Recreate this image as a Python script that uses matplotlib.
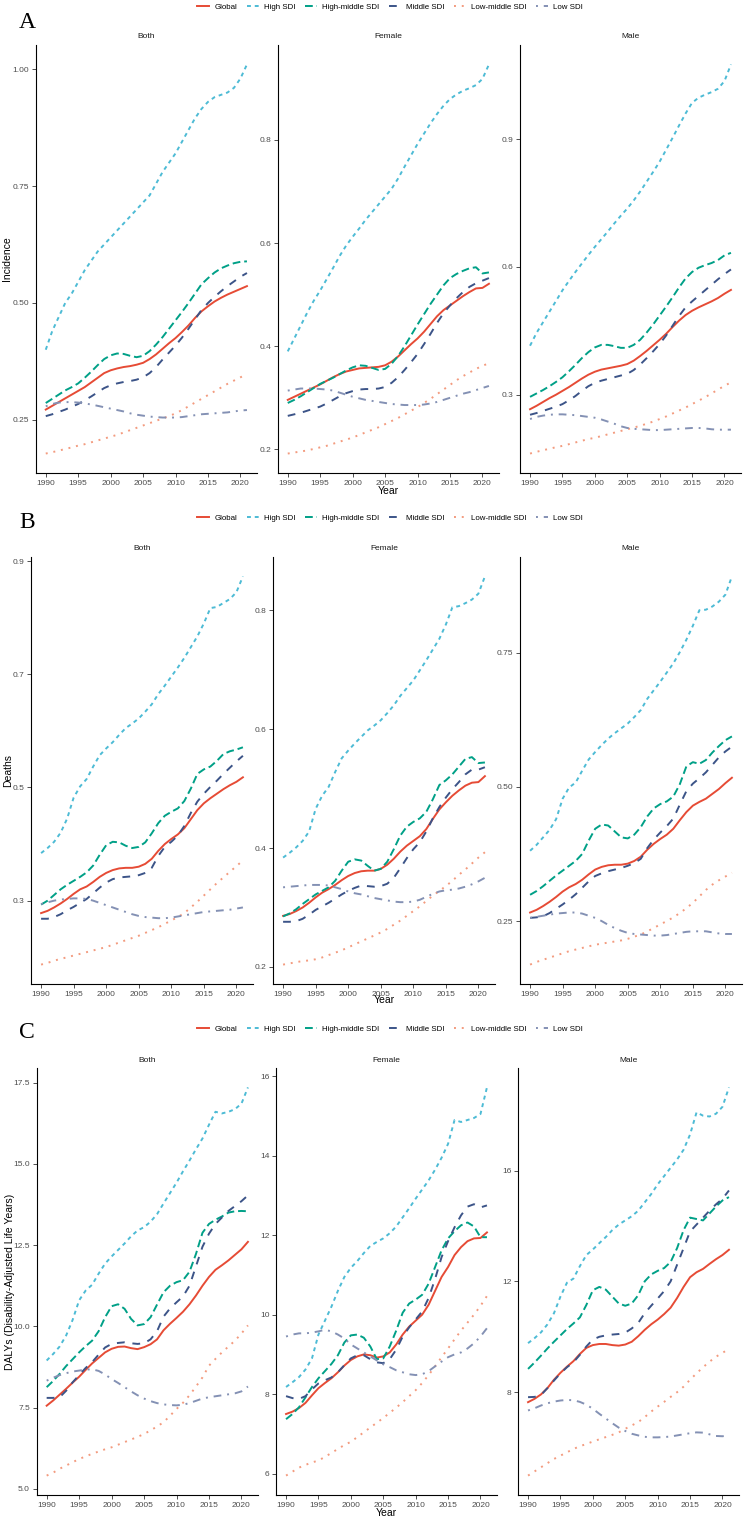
import matplotlib
matplotlib.use("Agg")
import matplotlib.pyplot as plt
from matplotlib.lines import Line2D

plt.rcParams['font.family'] = ['Liberation Sans', 'DejaVu Sans']

years = list(range(1990, 2022))
groups = ["Global", "High SDI", "High-middle SDI", "Middle SDI", "Low-middle SDI", "Low SDI"]
sexes = ["Both", "Female", "Male"]
colors = ["#E64B35", "#4DBBD5", "#00A087", "#3C5488", "#F39B7F", "#8491B4"]
x_ticks = [1990, 1995, 2000, 2005, 2010, 2015, 2020]

# ---------------- A: Incidence ----------------
inc_both_global = [0.272,0.280,0.288,0.296,0.304, 0.312,0.320,0.330,0.340,0.350, 0.356,0.360,0.363,0.365,0.368, 0.372,0.380,0.390,0.402,0.414, 0.425,0.438,0.452,0.468,0.482, 0.493,0.503,0.511,0.518,0.524, 0.530,0.536]
inc_both_high = [0.40,0.44,0.47,0.50,0.52, 0.545,0.57,0.59,0.61,0.625, 0.64,0.655,0.67,0.685,0.70, 0.715,0.73,0.755,0.78,0.80, 0.82,0.845,0.87,0.895,0.915, 0.93,0.94,0.945,0.95,0.96, 0.98,1.01]
inc_both_hm = [0.286,0.295,0.304,0.313,0.320, 0.328,0.340,0.353,0.367,0.380, 0.388,0.392,0.391,0.387,0.384, 0.387,0.397,0.411,0.427,0.445, 0.463,0.481,0.500,0.520,0.540, 0.553,0.565,0.574,0.580,0.585, 0.588,0.589]
inc_both_mid = [0.258,0.262,0.267,0.272,0.278, 0.284,0.292,0.300,0.309,0.318, 0.324,0.328,0.331,0.333,0.336, 0.341,0.350,0.363,0.379,0.394, 0.409,0.426,0.445,0.465,0.485, 0.500,0.513,0.525,0.536,0.546, 0.556,0.564]
inc_both_lm = [0.178,0.181,0.184,0.188,0.191, 0.195,0.198,0.202,0.206,0.210, 0.214,0.218,0.223,0.228,0.233, 0.238,0.243,0.248,0.253,0.258, 0.264,0.271,0.279,0.287,0.295, 0.303,0.311,0.319,0.327,0.334, 0.341,0.348]
inc_both_low = [0.279,0.284,0.287,0.288,0.288, 0.287,0.285,0.283,0.280,0.277, 0.274,0.271,0.268,0.264,0.261, 0.259,0.257,0.256,0.255,0.255, 0.255,0.256,0.258,0.260,0.262, 0.263,0.264,0.265,0.266,0.268, 0.270,0.271]

inc_fem_global = [0.296,0.302,0.308,0.314,0.320, 0.326,0.333,0.340,0.346,0.351, 0.354,0.357,0.358,0.359,0.360, 0.363,0.370,0.380,0.392,0.404, 0.415,0.428,0.443,0.458,0.470, 0.479,0.488,0.497,0.505,0.512, 0.513,0.521]
inc_fem_high = [0.39,0.415,0.44,0.465,0.488, 0.508,0.53,0.552,0.575,0.595, 0.612,0.628,0.645,0.66,0.675, 0.69,0.705,0.725,0.748,0.77, 0.792,0.812,0.832,0.85,0.866, 0.879,0.888,0.895,0.90,0.906, 0.918,0.946]
inc_fem_hm = [0.290,0.296,0.303,0.311,0.319, 0.327,0.333,0.339,0.346,0.353, 0.359,0.363,0.362,0.358,0.354, 0.356,0.366,0.381,0.400,0.421, 0.442,0.462,0.482,0.500,0.518, 0.532,0.540,0.546,0.551,0.553, 0.541,0.543]
inc_fem_mid = [0.265,0.268,0.271,0.275,0.279, 0.283,0.289,0.296,0.303,0.309, 0.313,0.316,0.317,0.317,0.318, 0.321,0.329,0.340,0.354,0.369, 0.385,0.404,0.424,0.445,0.464, 0.479,0.493,0.505,0.515,0.522, 0.527,0.532]
inc_fem_lm = [0.192,0.194,0.196,0.198,0.201, 0.204,0.207,0.211,0.215,0.219, 0.223,0.228,0.233,0.238,0.243, 0.249,0.255,0.261,0.268,0.275, 0.282,0.290,0.298,0.307,0.316, 0.325,0.334,0.342,0.349,0.356, 0.362,0.367]
inc_fem_low = [0.314,0.316,0.318,0.318,0.318, 0.317,0.316,0.314,0.310,0.306, 0.302,0.299,0.296,0.294,0.292, 0.290,0.288,0.287,0.286,0.286, 0.286,0.287,0.289,0.292,0.296, 0.300,0.304,0.308,0.311,0.315, 0.319,0.323]

inc_male_global = [0.266,0.274,0.283,0.292,0.300, 0.309,0.318,0.328,0.338,0.347, 0.354,0.359,0.362,0.365,0.368, 0.372,0.380,0.391,0.403,0.416, 0.429,0.443,0.459,0.474,0.487, 0.497,0.505,0.512,0.519,0.527, 0.537,0.546]
inc_male_high = [0.415,0.445,0.47,0.495,0.52, 0.545,0.567,0.588,0.608,0.628, 0.647,0.665,0.683,0.702,0.72, 0.737,0.756,0.777,0.80,0.823, 0.847,0.875,0.903,0.932,0.96, 0.985,0.997,1.004,1.01,1.018, 1.036,1.075]
inc_male_hm = [0.295,0.303,0.311,0.320,0.330, 0.341,0.355,0.370,0.386,0.400, 0.411,0.417,0.417,0.414,0.410, 0.410,0.417,0.429,0.446,0.465, 0.486,0.507,0.529,0.552,0.573, 0.588,0.598,0.604,0.609,0.616, 0.627,0.633]
inc_male_mid = [0.253,0.257,0.262,0.267,0.272, 0.278,0.287,0.297,0.309,0.320, 0.328,0.333,0.337,0.341,0.345, 0.349,0.358,0.371,0.386,0.402, 0.419,0.439,0.462,0.485,0.505, 0.519,0.532,0.545,0.558,0.571, 0.583,0.594]
inc_male_lm = [0.162,0.166,0.170,0.173,0.177, 0.180,0.184,0.188,0.192,0.196, 0.199,0.203,0.207,0.211,0.215, 0.219,0.223,0.227,0.232,0.237, 0.243,0.249,0.256,0.263,0.270, 0.278,0.286,0.294,0.303,0.312, 0.321,0.329]
inc_male_low = [0.243,0.248,0.251,0.253,0.254, 0.254,0.253,0.252,0.250,0.248, 0.246,0.242,0.237,0.232,0.226, 0.222,0.220,0.219,0.218,0.217, 0.217,0.218,0.219,0.220,0.221, 0.222,0.222,0.221,0.219,0.218, 0.218,0.218]

# ---------------- B: Deaths ----------------
dea_both_global = [0.278,0.282,0.288,0.295,0.303, 0.312,0.320,0.325,0.333,0.342, 0.349,0.354,0.357,0.358,0.358, 0.360,0.365,0.374,0.388,0.400, 0.409,0.417,0.428,0.444,0.460, 0.472,0.481,0.489,0.497,0.504, 0.510,0.518]
dea_both_high = [0.384,0.393,0.404,0.42,0.445, 0.482,0.502,0.515,0.537,0.557, 0.569,0.58,0.593,0.605,0.613, 0.622,0.634,0.647,0.665,0.68, 0.696,0.712,0.729,0.748,0.767, 0.79,0.817,0.819,0.826,0.833, 0.845,0.873]
dea_both_hm = [0.293,0.300,0.310,0.320,0.328, 0.335,0.342,0.350,0.362,0.381, 0.398,0.404,0.403,0.397,0.393, 0.395,0.403,0.419,0.437,0.450, 0.457,0.463,0.476,0.498,0.524, 0.532,0.537,0.547,0.559,0.564, 0.567,0.571]
dea_both_mid = [0.268,0.268,0.271,0.276,0.283, 0.289,0.296,0.303,0.313,0.323, 0.332,0.338,0.341,0.342,0.343, 0.345,0.349,0.358,0.379,0.395, 0.404,0.415,0.432,0.455,0.475, 0.489,0.501,0.512,0.524,0.535, 0.546,0.556]
dea_both_lm = [0.187,0.190,0.194,0.197,0.200, 0.203,0.206,0.209,0.212,0.215, 0.218,0.222,0.226,0.230,0.234, 0.238,0.243,0.248,0.253,0.259, 0.265,0.271,0.278,0.288,0.298, 0.309,0.320,0.331,0.341,0.351, 0.361,0.371]
dea_both_low = [0.294,0.297,0.300,0.302,0.303, 0.304,0.304,0.303,0.300,0.296, 0.292,0.288,0.284,0.280,0.276, 0.273,0.271,0.270,0.269,0.269, 0.270,0.272,0.274,0.276,0.278, 0.280,0.281,0.282,0.283,0.284, 0.286,0.288]

dea_fem_global = [0.286,0.289,0.294,0.300,0.308, 0.317,0.325,0.331,0.338,0.346, 0.353,0.358,0.361,0.362,0.362, 0.365,0.372,0.382,0.394,0.404, 0.412,0.420,0.432,0.449,0.465, 0.477,0.488,0.497,0.505,0.510, 0.511,0.521]
dea_fem_high = [0.384,0.392,0.401,0.412,0.428, 0.466,0.488,0.503,0.528,0.551, 0.564,0.576,0.587,0.598,0.606, 0.615,0.627,0.640,0.656,0.669, 0.682,0.699,0.716,0.734,0.752, 0.776,0.805,0.807,0.812,0.818, 0.828,0.857]
dea_fem_hm = [0.285,0.290,0.297,0.306,0.314, 0.322,0.328,0.334,0.345,0.362, 0.377,0.381,0.379,0.370,0.362, 0.365,0.377,0.398,0.421,0.436, 0.444,0.450,0.461,0.482,0.506, 0.514,0.524,0.537,0.550,0.553, 0.543,0.544]
dea_fem_mid = [0.276,0.276,0.277,0.281,0.288, 0.296,0.302,0.308,0.315,0.322, 0.328,0.333,0.337,0.336,0.335, 0.336,0.340,0.350,0.366,0.383, 0.398,0.410,0.428,0.450,0.469, 0.485,0.499,0.511,0.524,0.532, 0.532,0.536]
dea_fem_lm = [0.204,0.206,0.208,0.210,0.211, 0.213,0.216,0.220,0.224,0.228, 0.233,0.238,0.243,0.248,0.253, 0.258,0.264,0.271,0.278,0.286, 0.294,0.302,0.311,0.320,0.328, 0.336,0.345,0.355,0.364,0.374, 0.384,0.393]
dea_fem_low = [0.334,0.335,0.336,0.337,0.338, 0.338,0.338,0.337,0.334,0.331, 0.327,0.324,0.322,0.319,0.316, 0.314,0.312,0.310,0.309,0.309, 0.310,0.313,0.318,0.323,0.327, 0.329,0.330,0.332,0.335,0.339, 0.344,0.350]

dea_male_global = [0.266,0.271,0.278,0.286,0.295, 0.305,0.313,0.319,0.327,0.337, 0.346,0.351,0.354,0.355,0.355, 0.357,0.362,0.370,0.383,0.394, 0.403,0.411,0.422,0.438,0.453, 0.465,0.472,0.478,0.487,0.496, 0.507,0.517]
dea_male_high = [0.381,0.392,0.406,0.42,0.44, 0.478,0.499,0.508,0.53,0.551, 0.565,0.578,0.59,0.60,0.609, 0.618,0.63,0.643,0.664,0.68, 0.696,0.713,0.73,0.751,0.774, 0.80,0.829,0.83,0.836,0.845, 0.858,0.892]
dea_male_hm = [0.299,0.306,0.315,0.325,0.335, 0.344,0.353,0.362,0.375,0.400, 0.422,0.430,0.428,0.417,0.406, 0.404,0.411,0.425,0.445,0.460, 0.468,0.473,0.482,0.505,0.538, 0.546,0.543,0.550,0.564,0.576, 0.587,0.594]
dea_male_mid = [0.256,0.257,0.259,0.265,0.273, 0.281,0.290,0.300,0.312,0.324, 0.334,0.339,0.343,0.346,0.349, 0.353,0.358,0.366,0.386,0.402, 0.415,0.427,0.441,0.467,0.492, 0.506,0.516,0.527,0.541,0.555, 0.566,0.575]
dea_male_lm = [0.169,0.174,0.178,0.182,0.186, 0.190,0.194,0.197,0.200,0.203, 0.206,0.208,0.210,0.212,0.214, 0.217,0.221,0.225,0.231,0.237, 0.244,0.250,0.257,0.265,0.274, 0.284,0.296,0.308,0.318,0.326, 0.333,0.340]
dea_male_low = [0.256,0.258,0.260,0.262,0.264, 0.265,0.266,0.266,0.264,0.260, 0.256,0.250,0.243,0.237,0.232, 0.228,0.226,0.225,0.224,0.223, 0.223,0.224,0.226,0.228,0.230, 0.231,0.231,0.231,0.229,0.227, 0.226,0.226]

# ---------------- C: DALYs ----------------
daly_both_global = [7.56,7.72,7.90,8.08,8.27, 8.45,8.66,8.86,9.03,9.20, 9.31,9.37,9.38,9.33,9.30, 9.36,9.45,9.60,9.88,10.08, 10.26,10.45,10.68,10.95,11.25, 11.52,11.74,11.88,12.03,12.20, 12.37,12.60]
daly_both_high = [8.95,9.15,9.38,9.72,10.2, 10.8,11.1,11.28,11.62,11.93, 12.15,12.35,12.55,12.77,12.95, 13.05,13.22,13.45,13.78,14.1, 14.42,14.77,15.1,15.45,15.78, 16.2,16.6,16.55,16.6,16.68, 16.85,17.35]
daly_both_hm = [8.13,8.32,8.54,8.78,8.99, 9.2,9.39,9.56,9.85,10.28, 10.62,10.68,10.54,10.23,10.03, 10.07,10.28,10.67,11.05,11.25, 11.36,11.42,11.68,12.23,12.88, 13.15,13.28,13.38,13.5,13.54, 13.55,13.54]
daly_both_mid = [7.80,7.80,7.82,8.02,8.28, 8.50,8.72,8.90,9.13,9.35, 9.46,9.49,9.51,9.48,9.46, 9.48,9.60,9.85,10.30,10.55, 10.74,10.92,11.25,11.85,12.45, 12.85,13.15,13.35,13.55,13.70, 13.85,14.03]
daly_both_lm = [5.41,5.50,5.62,5.72,5.82, 5.92,6.00,6.08,6.15,6.22, 6.28,6.36,6.44,6.52,6.60, 6.69,6.80,6.92,7.05,7.25, 7.46,7.65,7.88,8.15,8.43, 8.79,9.00,9.20,9.38,9.56, 9.78,10.03]
daly_both_low = [8.33,8.42,8.50,8.56,8.61, 8.64,8.67,8.68,8.63,8.52, 8.38,8.26,8.13,8.00,7.88, 7.78,7.70,7.64,7.60,7.58, 7.57,7.59,7.64,7.71,7.78, 7.82,7.85,7.88,7.91,7.94, 8.00,8.15]

daly_fem_global = [7.50,7.56,7.65,7.78,7.97, 8.15,8.28,8.40,8.55,8.72, 8.86,8.95,9.00,8.98,8.92, 8.95,9.05,9.25,9.50,9.70, 9.85,10.00,10.25,10.60,10.95, 11.20,11.50,11.70,11.85,11.92, 11.93,12.07]
daly_fem_high = [8.18,8.30,8.43,8.62,8.90, 9.50,9.85,10.20,10.60,10.95, 11.18,11.35,11.55,11.73,11.83, 11.92,12.05,12.22,12.45,12.68, 12.92,13.15,13.38,13.65,13.95, 14.30,14.90,14.85,14.90,14.95, 15.05,15.72]
daly_fem_hm = [7.37,7.50,7.67,7.92,8.18, 8.40,8.58,8.76,8.98,9.30, 9.48,9.50,9.42,9.20,8.88, 8.90,9.20,9.60,10.05,10.28, 10.38,10.50,10.78,11.20,11.62, 11.92,12.10,12.25,12.32,12.22, 11.95,11.95]
daly_fem_mid = [7.95,7.90,7.88,7.95,8.12, 8.27,8.35,8.42,8.55,8.73, 8.90,8.98,8.98,8.88,8.80, 8.78,8.88,9.12,9.45,9.68, 9.88,10.08,10.42,10.90,11.45, 11.85,12.20,12.50,12.72,12.78, 12.70,12.75]
daly_fem_lm = [5.95,6.05,6.15,6.22,6.28, 6.33,6.42,6.52,6.62,6.72, 6.80,6.92,7.04,7.16,7.28, 7.40,7.53,7.66,7.80,7.95, 8.10,8.28,8.48,8.70,8.93, 9.15,9.38,9.60,9.80,10.00, 10.22,10.47]
daly_fem_low = [9.45,9.50,9.53,9.53,9.55, 9.58,9.62,9.58,9.50,9.40, 9.25,9.15,9.05,8.95,8.85, 8.75,8.68,8.60,8.55,8.50, 8.48,8.50,8.58,8.70,8.82, 8.93,9.00,9.05,9.15,9.28, 9.45,9.66]

daly_male_global = [7.64,7.76,7.92,8.15,8.45, 8.70,8.92,9.12,9.38,9.60, 9.70,9.74,9.74,9.70,9.68, 9.72,9.82,10.02,10.25,10.45, 10.62,10.82,11.05,11.40,11.80, 12.15,12.33,12.45,12.63,12.80, 12.95,13.14]
daly_male_high = [9.77,9.95,10.16,10.45,10.85, 11.45,11.95,12.10,12.55,12.95, 13.15,13.38,13.60,13.85,14.05, 14.20,14.35,14.55,14.85,15.15, 15.50,15.80,16.10,16.40,16.75, 17.30,18.10,17.98,17.95,18.05, 18.30,19.00]
daly_male_hm = [8.84,9.07,9.32,9.58,9.82, 10.05,10.28,10.48,10.70,11.15, 11.68,11.80,11.70,11.45,11.20, 11.12,11.20,11.50,12.00,12.25, 12.38,12.48,12.70,13.20,13.85, 14.30,14.25,14.20,14.45,14.70, 14.92,15.04]
daly_male_mid = [7.82,7.83,7.90,8.15,8.42, 8.68,8.90,9.08,9.35,9.65, 9.90,10.00,10.05,10.08,10.10, 10.15,10.30,10.50,10.85,11.12, 11.38,11.65,12.00,12.60,13.20, 13.80,14.05,14.30,14.55,14.78, 14.98,15.28]
daly_male_lm = [4.99,5.14,5.29,5.44,5.59, 5.71,5.83,5.95,6.05,6.13, 6.22,6.30,6.38,6.46,6.55, 6.68,6.80,6.92,7.10,7.30, 7.48,7.65,7.83,8.00,8.20, 8.45,8.68,8.90,9.10,9.28, 9.42,9.56]
daly_male_low = [7.34,7.42,7.52,7.60,7.66, 7.70,7.72,7.71,7.65,7.55, 7.40,7.22,7.05,6.88,6.72, 6.60,6.50,6.44,6.39,6.37, 6.37,6.38,6.40,6.44,6.48, 6.52,6.55,6.54,6.48,6.42, 6.41,6.44]

# y-axis ticks per panel
inc_yticks = [[0.25, 0.50, 0.75, 1.00], [0.2, 0.4, 0.6, 0.8], [0.3, 0.6, 0.9]]
inc_ylabels = [["0.25", "0.50", "0.75", "1.00"], ["0.2", "0.4", "0.6", "0.8"], ["0.3", "0.6", "0.9"]]
dea_yticks = [[0.3, 0.5, 0.7, 0.9], [0.2, 0.4, 0.6, 0.8], [0.25, 0.50, 0.75]]
dea_ylabels = [["0.3", "0.5", "0.7", "0.9"], ["0.2", "0.4", "0.6", "0.8"], ["0.25", "0.50", "0.75"]]
daly_yticks = [[5.0, 7.5, 10.0, 12.5, 15.0, 17.5], [6, 8, 10, 12, 14, 16], [8, 12, 16]]
daly_ylabels = [["5.0", "7.5", "10.0", "12.5", "15.0", "17.5"], ["6", "8", "10", "12", "14", "16"], ["8", "12", "16"]]

inc_data = [[inc_both_global, inc_both_high, inc_both_hm, inc_both_mid, inc_both_lm, inc_both_low],
            [inc_fem_global, inc_fem_high, inc_fem_hm, inc_fem_mid, inc_fem_lm, inc_fem_low],
            [inc_male_global, inc_male_high, inc_male_hm, inc_male_mid, inc_male_lm, inc_male_low]]
dea_data = [[dea_both_global, dea_both_high, dea_both_hm, dea_both_mid, dea_both_lm, dea_both_low],
            [dea_fem_global, dea_fem_high, dea_fem_hm, dea_fem_mid, dea_fem_lm, dea_fem_low],
            [dea_male_global, dea_male_high, dea_male_hm, dea_male_mid, dea_male_lm, dea_male_low]]
daly_data = [[daly_both_global, daly_both_high, daly_both_hm, daly_both_mid, daly_both_lm, daly_both_low],
             [daly_fem_global, daly_fem_high, daly_fem_hm, daly_fem_mid, daly_fem_lm, daly_fem_low],
             [daly_male_global, daly_male_high, daly_male_hm, daly_male_mid, daly_male_lm, daly_male_low]]

# ---------------- layout (pixels) ----------------
W, H = 746, 1524
LW = 1.4
styles = ['-', (0, (2, 2)), (0, (4, 2)), (0, (4, 4)), (0, (1, 3)), (0, (1, 3, 4, 3))]

sections = [
    dict(letter="A", letter_xy=(27, 22), legend_y=7, ylabel="Incidence", ylabel_x=7,
         top=45, bottom=473, xs=[(35.7, 257), (277.7, 499), (520, 741)], year_y=491,
         data=inc_data, yt=inc_yticks, yl=inc_ylabels),
    dict(letter="B", letter_xy=(27, 523), legend_y=518, ylabel="Deaths", ylabel_x=8,
         top=557, bottom=984, xs=[(31, 253), (273, 495), (520, 742)], year_y=1000,
         data=dea_data, yt=dea_yticks, yl=dea_ylabels),
    dict(letter="C", letter_xy=(27, 1033), legend_y=1029, ylabel="DALYs (Disability-Adjusted Life Years)", ylabel_x=10,
         top=1068, bottom=1495, xs=[(36.6, 258), (276, 497), (518, 739)], year_y=1513,
         data=daly_data, yt=daly_yticks, yl=daly_ylabels),
]

fig = plt.figure(figsize=(W / 100, H / 100), dpi=100)

for sec in sections:
    top, bottom = sec["top"], sec["bottom"]
    for j, (x0, x1) in enumerate(sec["xs"]):
        ax = fig.add_axes([x0 / W, 1 - bottom / H, (x1 - x0) / W, (bottom - top) / H])
        for k, name in enumerate(groups):
            ax.plot(years, sec["data"][j][k], color=colors[k], linestyle=styles[k], lw=LW,
                    dash_capstyle='butt')
        ax.margins(x=0.05, y=0.05)
        ax.set_xticks(x_ticks)
        ax.set_yticks(sec["yt"][j])
        ax.set_yticklabels(sec["yl"][j])
        for s in ["top", "right"]:
            ax.spines[s].set_visible(False)
        for s in ["left", "bottom"]:
            ax.spines[s].set_linewidth(0.8)
            ax.spines[s].set_color("#000000")
        ax.tick_params(axis='both', labelsize=6, colors='#333333', labelcolor='#4D4D4D',
                       length=2.75, width=0.6, pad=2)
        ax.set_facecolor('white')
        ax.text(0.5, 1 + 8 / (bottom - top), sexes[j], transform=ax.transAxes,
                ha='center', va='center', fontsize=6, color='#1A1A1A')
        if j == 1:
            fig.text(((x0 + x1) / 2) / W, 1 - sec["year_y"] / H, "Year", ha='center', va='center',
                     fontsize=7.5, color='black')
    fig.text(sec["ylabel_x"] / W, 1 - ((top + bottom) / 2) / H, sec["ylabel"], rotation=90,
             ha='center', va='center', fontsize=7.5, color='black')
    fig.text(sec["letter_xy"][0] / W, 1 - sec["letter_xy"][1] / H, sec["letter"],
             family=['Liberation Serif', 'DejaVu Serif'], fontsize=17, ha='center', va='center')
    handles = [Line2D([0], [0], color=colors[k], linestyle=styles[k], lw=LW) for k in range(6)]
    fig.legend(handles, groups, loc='center', bbox_to_anchor=(390 / W, 1 - sec["legend_y"] / H),
               ncol=6, frameon=False, fontsize=5.7, handlelength=1.5, handletextpad=0.65,
               columnspacing=1.2, borderaxespad=0, borderpad=0)

fig.savefig("out.png", dpi=100, facecolor='white')
